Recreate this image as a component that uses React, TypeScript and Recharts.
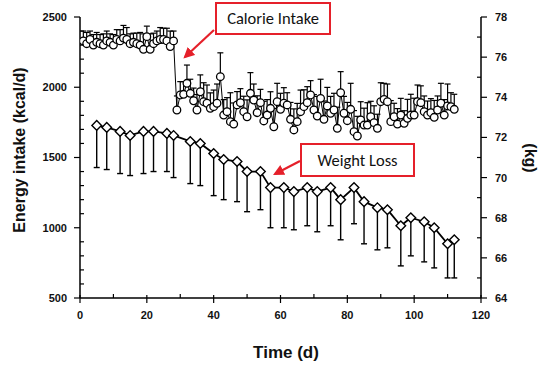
import React from 'react';
import { LineChart, Line, XAxis, YAxis, ErrorBar } from 'recharts';

// daily energy intake, day 1..112 (kcal/d)
const calorieValues = [
  2330, 2310, 2340, 2300, 2320, 2310, 2300, 2330, 2320, 2300,
  2340, 2330, 2350, 2340, 2310, 2320, 2310, 2300, 2270, 2360,
  2270, 2310, 2330, 2340, 2340, 2330, 2290, 2330, 1838, 1945,
  1950, 2028, 1957, 1904, 1838, 1968, 1897, 1886, 1850, 1862,
  1886, 2075, 1802, 1826, 1755, 1738, 1874, 1890, 1826, 1790,
  1957, 1909, 1819, 1890, 1760, 1802, 1850, 1719, 1897, 1843,
  1886, 1874, 1772, 1696, 1755, 1826, 1862, 1890, 1945, 1838,
  1795, 1921, 1772, 1867, 1815, 1838, 1708, 1961, 1815, 1762,
  1843, 1684, 1653, 1767, 1731, 1731, 1790, 1748, 1708, 1897,
  1914, 1897, 1755, 1790, 1738, 1802, 1743, 1779, 1802, 1802,
  1897, 1890, 1826, 1802, 1819, 1786, 1838, 1886, 1802, 1867,
  1862, 1843,
];

// upper error bar length (kcal/d)
const calorieErrors = [
  70, 80, 60, 75, 70, 65, 80, 70, 60, 75,
  70, 80, 90, 85, 70, 65, 75, 90, 110, 75,
  110, 75, 70, 85, 80, 90, 110, 70, 100, 95,
  90, 130, 100, 90, 110, 120, 135, 130, 110, 118,
  137, 170, 110, 100, 206, 150, 95, 100, 110, 120,
  147, 114, 120, 95, 140, 110, 118, 130, 131, 114,
  111, 87, 120, 150, 130, 154, 120, 114, 102, 110,
  140, 136, 130, 132, 120, 119, 150, 150, 120, 130,
  185, 150, 140, 130, 120, 159, 110, 120, 100, 135,
  114, 126, 150, 96, 110, 119, 90, 135, 148, 120,
  119, 120, 112, 100, 100, 120, 100, 142, 110, 156,
  99, 107,
];

const weightDays = [5, 8, 12, 15, 19, 22, 26, 28, 33, 36, 40, 43, 47, 50, 54, 57, 61, 64, 68, 71, 75, 78, 82, 85, 89, 92, 96, 99, 103, 106, 110, 112];
const weightValues = [72.6, 72.5, 72.3, 72.1, 72.3, 72.3, 72.2, 72.1, 71.8, 71.7, 71.2, 70.9, 70.8, 70.3, 70.3, 69.5, 69.5, 69.3, 69.5, 69.3, 69.5, 68.9, 69.5, 68.8, 68.5, 68.4, 67.6, 68.0, 67.8, 67.5, 66.7, 66.9];
const weightErrors = [2.1, 2.1, 2.1, 2.0, 2.1, 2.0, 1.9, 2.1, 2.1, 2.1, 2.1, 2.0, 2.0, 2.0, 1.9, 2.0, 2.0, 1.9, 1.9, 2.0, 1.9, 2.0, 1.8, 2.1, 2.1, 1.9, 2.0, 1.9, 2.0, 2.0, 1.7, 1.9];

const timeTicks = [0, 20, 40, 60, 80, 100, 120];
const energyTicks = [500, 1000, 1500, 2000, 2500];
const kgTicks = [64, 66, 68, 70, 72, 74, 76, 78];

const calorieData = calorieValues.map((v, i) => ({ day: i + 1, kcal: v, err: [0, calorieErrors[i]] }));
const weightData = weightDays.map((d, i) => ({ day: d, kg: weightValues[i], err: [weightErrors[i], 0] }));

// minor ticks in between the labelled ones
const timeAll = [...Array(13)].map((_, i) => i * 10);
const energyAll = [...Array(21)].map((_, i) => 500 + i * 100);
const kgAll = [...Array(15)].map((_, i) => 64 + i);

const FONT = '"Liberation Sans", Arial, Helvetica, sans-serif';
const RED = '#e5202a';

const tickText = { fontFamily: FONT, fontSize: 11, fontWeight: 700, fill: '#111' };

const LeftTick = (props: any) => {
  const { x, y, payload } = props;
  const major = energyTicks.includes(payload.value);
  return (
    <g>
      <line x1={x} x2={major ? x - 6 : x + 4} y1={y} y2={y} stroke="#000" strokeWidth={1.2} />
      {major && (
        <text x={x - 13} y={y} dy="0.36em" textAnchor="end" {...tickText}>
          {payload.value}
        </text>
      )}
    </g>
  );
};

const RightTick = (props: any) => {
  const { x, y, payload } = props;
  const major = kgTicks.includes(payload.value);
  return (
    <g>
      <line x1={x} x2={major ? x + 6 : x - 4} y1={y} y2={y} stroke="#000" strokeWidth={1.2} />
      {major && (
        <text x={x + 14} y={y} dy="0.36em" textAnchor="start" {...tickText}>
          {payload.value}
        </text>
      )}
    </g>
  );
};

const BottomTick = (props: any) => {
  const { x, y, payload } = props;
  const major = timeTicks.includes(payload.value);
  return (
    <g>
      <line x1={x} x2={x} y1={major ? y + 5 : y} y2={major ? y - 3 : y - 4} stroke="#000" strokeWidth={1.2} />
      {major && (
        <text x={x} y={y + 17} dy="0.36em" textAnchor="middle" {...tickText}>
          {payload.value}
        </text>
      )}
    </g>
  );
};

const Diamond = (props: any) => {
  const { cx, cy, index } = props;
  if (cx == null || cy == null) return <g key={index} />;
  const s = 4.8;
  return (
    <path
      key={index}
      d={`M${cx},${cy - s}L${cx + s},${cy}L${cx},${cy + s}L${cx - s},${cy}Z`}
      fill="#fff"
      stroke="#000"
      strokeWidth={1.4}
    />
  );
};

const titleStyle = { fontFamily: FONT, fontSize: 16, fontWeight: 700, fill: '#111' };

const Callout = ({ x, y, w, h, text, from, to }: any) => (
  <g>
    <line x1={from[0]} y1={from[1]} x2={to[0]} y2={to[1]} stroke={RED} strokeWidth={2.2} markerEnd="url(#arrowHead)" />
    <rect x={x} y={y} width={w} height={h} fill="#fff" stroke={RED} strokeWidth={2} />
    <text
      x={x + w / 2}
      y={y + h / 2}
      dy="0.35em"
      textAnchor="middle"
      style={{ fontFamily: 'Carlito, Lato, "Open Sans", sans-serif', fontSize: 16.5, fill: '#111' }}
    >
      {text}
    </text>
  </g>
);

export default function App() {
  return (
    <div style={{ position: 'absolute', left: 0, top: 0, width: 550, height: 368, background: '#fff' }}>
      <LineChart width={550} height={368} margin={{ top: 17, right: 0, bottom: 0, left: 0 }}>
        <XAxis
          dataKey="day"
          type="number"
          domain={[0, 120]}
          ticks={timeAll}
          interval={0}
          tick={<BottomTick />}
          tickLine={false}
          tickSize={0}
          tickMargin={0}
          height={70}
          axisLine={{ stroke: '#000', strokeWidth: 1.5 }}
          allowDataOverflow
          label={{
            content: () => (
              <text x={286} y={352} dy="0.35em" textAnchor="middle" style={{ ...titleStyle, fontSize: 17 }}>
                Time (d)
              </text>
            ),
          }}
        />
        <YAxis
          yAxisId="kcal"
          orientation="left"
          type="number"
          domain={[500, 2500]}
          ticks={energyAll}
          interval={0}
          tick={<LeftTick />}
          tickLine={false}
          tickSize={0}
          tickMargin={0}
          width={80}
          axisLine={{ stroke: '#000', strokeWidth: 1.5 }}
          allowDataOverflow
          label={{
            content: () => (
              <text x={19} y={150} dy="0.35em" textAnchor="middle" transform="rotate(-90 19 150)" style={titleStyle}>
                Energy intake (kcal/d)
              </text>
            ),
          }}
        />
        <YAxis
          yAxisId="kg"
          orientation="right"
          type="number"
          domain={[64, 78]}
          ticks={kgAll}
          interval={0}
          tick={<RightTick />}
          tickLine={false}
          tickSize={0}
          tickMargin={0}
          width={69}
          axisLine={{ stroke: '#000', strokeWidth: 1.5 }}
          allowDataOverflow
          label={{
            content: () => (
              <text x={531} y={158} dy="0.35em" textAnchor="middle" transform="rotate(90 531 158)" style={titleStyle}>
                (kg)
              </text>
            ),
          }}
        />
        <Line
          yAxisId="kcal"
          data={calorieData}
          dataKey="kcal"
          stroke="#000"
          strokeWidth={1}
          dot={{ r: 3.8, fill: '#fff', stroke: '#000', strokeWidth: 1.3 }}
          activeDot={false}
          isAnimationActive={false}
        >
          <ErrorBar dataKey="err" direction="y" width={3} stroke="#000" strokeWidth={1.2} isAnimationActive={false} />
        </Line>
        <Line
          yAxisId="kg"
          data={weightData}
          dataKey="kg"
          stroke="#000"
          strokeWidth={1.8}
          dot={<Diamond />}
          activeDot={false}
          isAnimationActive={false}
        >
          <ErrorBar dataKey="err" direction="y" width={3} stroke="#000" strokeWidth={1.4} isAnimationActive={false} />
        </Line>
      </LineChart>
      <svg width={550} height={368} style={{ position: 'absolute', left: 0, top: 0, pointerEvents: 'none' }}>
        <defs>
          <marker id="arrowHead" viewBox="0 0 10 10" refX="8" refY="5" markerWidth="5" markerHeight="5" orient="auto">
            <path d="M0,0L10,5L0,10Z" fill={RED} />
          </marker>
        </defs>
        <Callout x={216} y={3} w={114} h={31} text="Calorie Intake" from={[214, 30]} to={[185, 57]} />
        <Callout x={301} y={144} w={113} h={32} text="Weight Loss" from={[300, 161]} to={[275, 174]} />
      </svg>
    </div>
  );
}
